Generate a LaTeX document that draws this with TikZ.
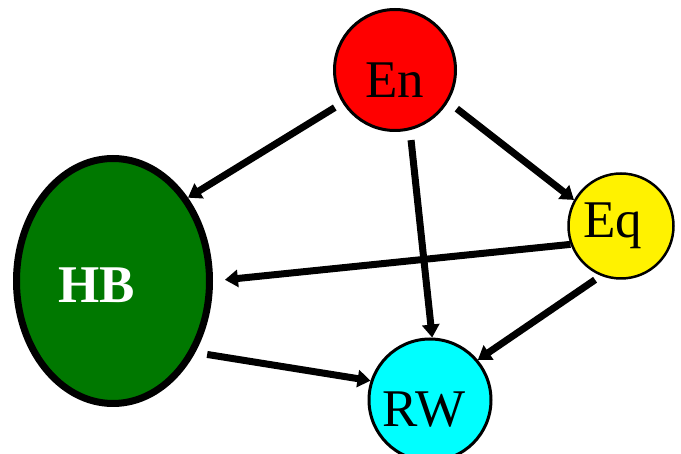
\documentclass[tikz,border=0pt]{standalone}
\usepackage{fontspec}
\setmainfont{Liberation Serif}
\usetikzlibrary{arrows.meta,shapes.geometric}
\definecolor{hbgreen}{RGB}{0,120,0}
\definecolor{rwcyan}{RGB}{0,255,255}
\begin{document}
\begin{tikzpicture}[x=1pt,y=-1pt,>={Triangle[length=13pt,width=17pt]},line join=round,
		font=\fontsize{53}{60}\selectfont,
		vert/.style={circle,draw=black,line width=3pt,inner sep=0pt},
		edge/.style={->,line width=7pt,black}]
	\useasboundingbox (0,0) rectangle (681,454);
	% nodes
	\node [vert,fill=red,minimum size=121pt] (En) at (395,70) {};
	\node [vert,fill=yellow,line width=2.5pt,minimum size=105pt] (Eq) at (621,226) {};
	\node [vert,fill=rwcyan,minimum size=122pt] (RW) at (430,400) {};
	\node [ellipse,draw=black,fill=hbgreen,line width=7pt,minimum width=193pt,minimum height=245pt] (HB) at (113,281) {};
	\node (EnText) at (395,80) {En};
	\node (EqText) at (613,226) {Eq};
	\node (RWText) at (424,410) {RW};
	\node [text=white,font=\fontsize{53}{60}\selectfont\bfseries] (HBText) at (97,285) {HB};
	% arrows
	\draw [edge,shorten <=9pt] (En.212) -- (HB.48);
	\draw [edge,shorten <=11pt] (En.-31) -- (Eq.151);
	\draw [edge,shorten <=10pt] (En.-76) -- (RW.88);
	\draw [edge,shorten >=12pt] (Eq.200) -- (HB.0);
	\draw [edge,shorten <=7pt] (Eq.-112) -- (RW.40);
	\draw [edge,shorten <=12pt] (HB.-41) -- (RW.162);
\end{tikzpicture}
\end{document}
